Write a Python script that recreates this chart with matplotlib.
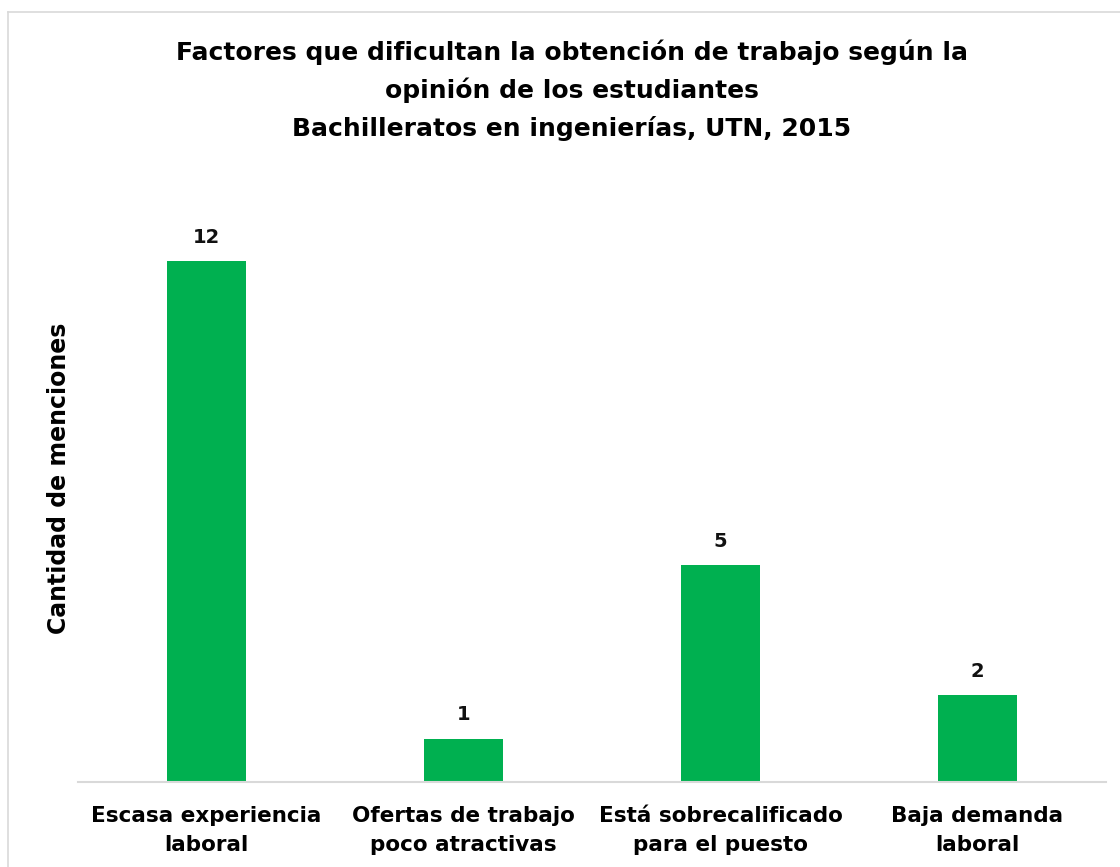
import matplotlib.pyplot as plt
from matplotlib.lines import Line2D

# datos
categorias = ['Escasa experiencia\nlaboral', 'Ofertas de trabajo\npoco atractivas',
              'Está sobrecalificado\npara el puesto', 'Baja demanda\nlaboral']
menciones = [12, 1, 5, 2]
titulo = ('Factores que dificultan la obtención de trabajo según la\n'
          'opinión de los estudiantes\nBachilleratos en ingenierías, UTN, 2015')

plt.rcParams['font.family'] = ['DejaVu Sans']
plt.rcParams['font.weight'] = 'bold'

fig = plt.figure(figsize=(11.2, 8.67), dpi=100)
W, H = 1120, 867
ax = fig.add_axes([78 / W, 85 / H, 1028 / W, 608 / H])

x = range(len(categorias))
bars = ax.bar(x, menciones, width=0.31, color='#00b050')
for b, v in zip(bars, menciones):
    ax.text(b.get_x() + b.get_width() / 2, v + 0.33, str(v), ha='center', va='bottom',
            fontsize=14, fontweight='bold', color='#111111')

ax.set_xlim(-0.5, len(categorias) - 0.5)
ax.set_ylim(0, 14)
ax.set_xticks(list(x))
ax.set_xticklabels(categorias, fontsize=15.5, fontweight='bold', linespacing=1.6)
ax.tick_params(axis='x', length=0, pad=17)
ax.set_yticks([])
for s in ['top', 'right', 'left']:
    ax.spines[s].set_visible(False)
ax.spines['bottom'].set_color('#d9d9d9')
ax.spines['bottom'].set_linewidth(1.5)

ax.set_ylabel('Cantidad de menciones', fontsize=17, fontweight='bold', labelpad=5)

fig.text(572 / W, 1 - 90 / H, titulo, ha='center', va='center', fontsize=18,
         fontweight='bold', linespacing=1.62)

# borde del gráfico
fig.add_artist(Line2D([8 / W, 8 / W], [0, 1 - 12 / H], color='#d9d9d9', lw=1.2))
fig.add_artist(Line2D([8 / W, 1], [1 - 12 / H, 1 - 12 / H], color='#d9d9d9', lw=1.2))

fig.savefig('out.png', dpi=100)
